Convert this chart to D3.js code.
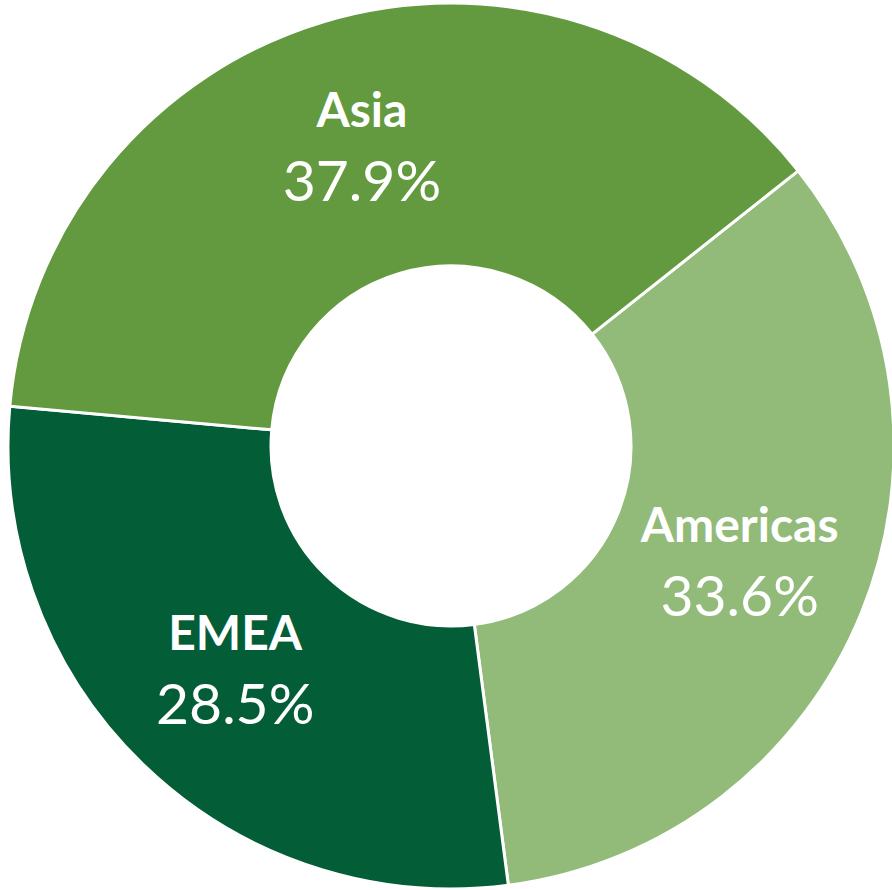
<!DOCTYPE html>
<html lang="en">
<head>
    <meta charset="UTF-8">
    <title>Region share</title>
    <script src="https://d3js.org/d3.v7.min.js"></script>
    <style>
        body { margin: 0; background: #fff; }
    </style>
</head>
<body>
<script>
    const width  = 892;
    const height = 890;

    const regions = ["Americas", "EMEA", "Asia"];
    const shares  = [33.6, 28.5, 37.9];
    const colors  = ["#92bb7a", "#035d36", "#639a3f"];

    const cx = 451, cy = 446;
    const outerR = 443, innerR = 180;
    const startAngle = 51.6 * Math.PI / 180;

    const data = regions.map((r, i) => ({region: r, value: shares[i], color: colors[i]}));

    const pie = d3.pie()
                  .sort(null)
                  .value(d => d.value)
                  .startAngle(startAngle)
                  .endAngle(startAngle + 2 * Math.PI);

    const arc = d3.arc().innerRadius(innerR).outerRadius(outerR);

    const svg = d3.select("body").append("svg").attr("width", width).attr("height", height);
    const g = svg.append("g").attr("transform", `translate(${cx},${cy})`);

    const arcs = pie(data);

    g.selectAll("path")
     .data(arcs)
     .enter().append("path")
     .attr("d", arc)
     .attr("fill", d => d.data.color)
     .attr("stroke", "#fff")
     .attr("stroke-width", 3);

    const labels = g.selectAll("g.label")
                    .data(arcs)
                    .enter().append("g")
                    .attr("class", "label")
                    .attr("transform", d => `translate(${arc.centroid(d)})`);

    labels.append("text")
          .attr("text-anchor", "middle")
          .attr("y", -21)
          .attr("fill", "#fff")
          .style("font-family", "Lato, 'Open Sans', sans-serif")
          .style("font-weight", "bold")
          .style("font-size", "48px")
          .text(d => d.data.region);

    labels.append("text")
          .attr("text-anchor", "middle")
          .attr("y", 53)
          .attr("fill", "#fff")
          .style("font-family", "Lato, 'Open Sans', sans-serif")
          .style("font-size", "57px")
          .text(d => d.data.value.toFixed(1) + "%");
</script>
</body>
</html>
